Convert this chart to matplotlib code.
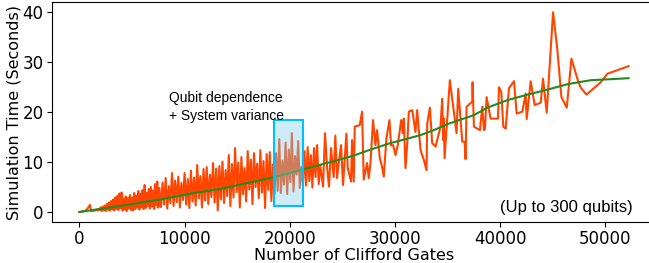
import matplotlib
matplotlib.use('Agg')
import matplotlib.pyplot as plt
import matplotlib.patches as patches

# measured simulation times (orange) and smoothed trend (green)
gates = [0, 100, 200, 300, 400, 500, 600, 700, 800, 900, 1000, 1100, 1200, 1300, 1400, 1500, 1600, 1700, 1800, 1900,
         2000, 2100, 2200, 2300, 2400, 2500, 2600, 2700, 2800, 2900, 3000, 3100, 3200, 3300, 3400, 3500, 3600, 3700, 3800, 3900,
         4000, 4100, 4200, 4300, 4400, 4500, 4600, 4700, 4800, 4900, 5000, 5100, 5200, 5300, 5400, 5500, 5600, 5700, 5800, 5900,
         6000, 6100, 6200, 6300, 6400, 6500, 6600, 6700, 6800, 6900, 7000, 7100, 7200, 7300, 7400, 7500, 7600,
         7750, 7900, 8050, 8200, 8350, 8500, 8650, 8800, 8950, 9100, 9250, 9400, 9550, 9700, 9850, 10000, 10150, 10300, 10450,
         10600, 10750, 10900, 11050, 11200, 11350, 11500, 11650, 11800, 11950, 12100, 12250, 12400, 12550, 12700, 12850, 13000, 13150, 13300,
         13450, 13600, 13750, 13900, 14050, 14200, 14350, 14500, 14650, 14800, 14950, 15100, 15250, 15400, 15550, 15700, 15850,
         16000, 16150, 16300, 16450, 16600, 16750, 16900, 17050, 17200, 17350, 17500, 17650, 17800, 17950, 18100, 18250, 18400,
         18550, 18700, 18850, 19000, 19150, 19300, 19450, 19600, 19750, 19900, 20050, 20200, 20350, 20500, 20650, 20800, 20950, 21100, 21250,
         21400, 21550, 21700, 21850, 22000, 22150, 22300, 22450, 22600, 22750, 22900,
         23160, 23350, 23540, 23730, 23920, 24175, 24330, 24490, 24650, 24870, 25065, 25380, 25510, 25825, 25920, 26080, 26175,
         26650, 26875, 27030, 27350, 27510, 27670, 27920, 28145, 28300, 28555, 28780, 28935, 29190, 29475, 29635, 29825, 30050,
         30270, 30590, 30750, 30840, 31000, 31160, 31320, 31640, 31950, 32110, 32430, 32750, 33000, 33065, 33320, 33540, 33860,
         34333, 34490, 34587, 34650, 34715, 35220, 35857, 36015, 36397, 36620, 36714, 36810, 37350, 37380, 37508, 38080, 38300,
         38460, 38556, 38715, 39095, 39794, 39890, 40112, 40302, 40524, 40842, 41318, 41572, 42112, 42430, 42525, 42905, 43286,
         43858, 44080, 44430, 45030, 45445, 45826, 46335, 46780, 47445, 47668, 48208, 49571, 50206, 52210]
sim_time = [0.0, 0.05, 0.1, 0.1, 0.2, 0.2, 0.3, 0.5, 0.8, 1.1, 1.4, 0.2, 0.3, 0.2, 0.4, 0.3, 0.5, 0.3, 0.6, 0.4,
            0.9, 0.2, 1.1, 0.3, 1.3, 0.2, 1.6, 0.4, 1.9, 0.3, 2.2, 0.5, 2.5, 0.3, 2.9, 0.6, 3.2, 0.4, 3.7, 0.8,
            3.9, 0.3, 2.6, 0.5, 3.1, 0.2, 2.8, 0.7, 3.4, 0.4, 2.9, 0.3, 3.8, 0.6, 3.3, 0.9, 4.2, 0.5, 3.6, 1.0,
            4.4, 0.6, 5.4, 0.8, 3.9, 1.2, 4.6, 0.7, 5.0, 1.1, 4.3, 0.6, 5.6, 1.3, 6.1, 0.9, 4.8,
            1.0, 5.9, 1.5, 6.8, 0.7, 5.2, 1.8, 7.8, 1.2, 6.3, 2.0, 7.1, 0.9, 5.8, 2.4, 7.8, 1.5, 6.6, 0.8,
            8.3, 2.1, 6.9, 1.3, 9.4, 2.7, 7.2, 0.9, 8.6, 2.3, 9.0, 1.6, 7.5, 3.0, 9.8, 1.9, 8.7, 0.3, 9.2,
            2.5, 10.1, 1.8, 8.4, 3.2, 11.4, 1.2, 9.6, 2.9, 12.8, 4.0, 9.9, 0.9, 11.0, 3.6, 8.8, 2.1,
            12.2, 4.5, 10.5, 1.6, 11.8, 5.0, 9.7, 2.8, 12.4, 3.9, 10.2, 0.8, 11.6, 4.4, 12.0, 2.2, 9.5,
            3.5, 11.8, 4.2, 14.6, 3.8, 10.3, 5.5, 13.9, 3.6, 12.5, 6.0, 15.8, 4.1, 11.2, 7.5, 14.2, 4.8, 9.0, 5.5,
            12.2, 5.3, 13.0, 6.2, 11.4, 4.9, 12.8, 7.0, 13.4, 5.6, 9.3,
            5.1, 15.8, 9.1, 5.1, 12.8, 7.0, 15.3, 6.8, 9.8, 13.4, 5.4, 15.7, 8.8, 6.1, 14.4, 6.1, 17.1,
            17.4, 20.1, 6.5, 9.8, 6.8, 9.8, 18.4, 13.4, 16.4, 10.8, 9.0, 7.1, 14.8, 18.4, 13.3, 13.4, 11.4,
            13.4, 18.4, 15.8, 18.7, 8.8, 13.4, 20.1, 20.4, 16.0, 20.4, 12.4, 10.4, 8.4, 17.7, 20.9, 13.8, 13.1,
            17.1, 22.7, 14.4, 18.7, 10.8, 26.4, 15.8, 24.7, 14.1, 14.1, 10.6, 21.1, 22.1, 26.0, 17.1, 16.4, 21.1,
            16.4, 16.7, 23.0, 18.7, 18.7, 25.0, 24.0, 17.1, 16.7, 24.8, 26.2, 19.7, 20.1, 23.7, 18.6, 26.2, 21.4,
            21.9, 26.7, 19.9, 40.0, 32.4, 23.0, 20.9, 30.7, 26.0, 24.9, 23.5, 26.0, 27.7, 29.2]

trend_gates = [0, 3540, 7670, 10810, 13380, 14650, 18524, 21000, 23860, 24900, 26080, 27670, 29570, 30840,
               32430, 33700, 35130, 37508, 38778, 40683, 42588, 44490, 46400, 48620, 50500, 52210]
trend_time = [0.0, 1.1, 2.5, 3.8, 4.6, 5.2, 7.0, 8.4, 10.0, 10.6, 11.3, 12.5, 13.8, 14.5,
              15.4, 16.4, 17.7, 19.4, 20.9, 22.4, 23.5, 24.5, 25.6, 26.4, 26.6, 26.8]

# highlighted window
box_x = [18524, 21257]
box_y = [1.2, 18.5]

fig = plt.figure(figsize=(6.49, 2.63), dpi=100)
ax = fig.add_axes([0.0801, 0.1559, 0.9307, 0.8354])

ax.plot(gates, sim_time, color='orangered', linewidth=1.5)
ax.plot(trend_gates, trend_time, color='forestgreen', linewidth=1.5)

rect = patches.Rectangle((box_x[0], box_y[0]), box_x[1] - box_x[0], box_y[1] - box_y[0],
                         facecolor=(0.53, 0.81, 0.92, 0.4), edgecolor='deepskyblue', linewidth=1.5, zorder=3)
ax.add_patch(rect)

ax.text(8520, 21.0, 'Qubit dependence\n+ System variance', family='Liberation Sans',
        fontsize=10, ha='left', va='center', linespacing=1.3)
ax.text(52600, 1.0, '(Up to 300 qubits)', family='Liberation Sans', fontsize=12,
        ha='right', va='center')

ax.set_xlabel('Number of Clifford Gates', fontsize=11.5, labelpad=0)
ax.set_ylabel('Simulation Time (Seconds)', fontsize=11.5, labelpad=1)
ax.tick_params(labelsize=12, pad=2.5)
ax.set_xticks([0, 10000, 20000, 30000, 40000, 50000])
ax.set_yticks([0, 10, 20, 30, 40])

fig.savefig('out.png', dpi=100)
